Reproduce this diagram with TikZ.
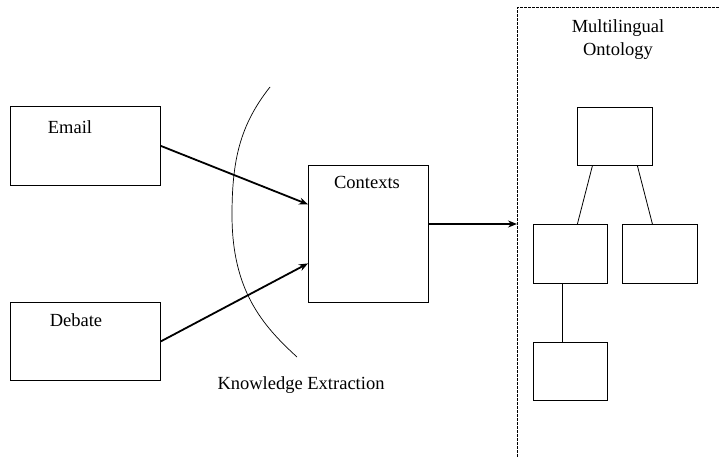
\documentclass[tikz,border=0pt]{standalone}
\usepackage{fontspec}
\setmainfont{Liberation Serif}
\usetikzlibrary{arrows.meta,calc}
\begin{document}
\begin{tikzpicture}[x=1pt,y=-1pt,
  box/.style={draw, line width=0.8pt, inner sep=0pt, anchor=north west},
  lbl/.style={font=\fontsize{18.5}{22}\selectfont, inner sep=0pt},
  conn/.style={line width=1.8pt,-{Stealth[length=9pt,width=7pt]}},
  tree/.style={line width=0.8pt}]
\useasboundingbox (0,0) rectangle (719,457);
% left boxes
\node[box, minimum width=150pt, minimum height=79pt] (email) at (10,106) {};
\node[box, minimum width=150pt, minimum height=78pt] (debate) at (10,302) {};
\node[box, minimum width=120pt, minimum height=137pt] (contexts) at (308,165) {};
\node[lbl] (emailt) at (70,127) {Email};
\node[lbl] (debatet) at (76,320) {Debate};
\node[lbl] (contextst) at (367,182) {Contexts};
% curve
\draw[line width=0.7pt] (270,87) .. controls (240,125) and (232,160) .. (232,215)
   .. controls (232,290) and (262,325) .. (297,357);
\node[lbl] (ke) at (301,385) {Knowledge Extraction};
% arrows
\draw[conn] (email.east) -- ($(contexts.west)+(0,-29.5)$);
\draw[conn] (debate.east) -- ($(contexts.west)+(0,29.5)$);
\coordinate (ontoin) at (517,224);
\draw[conn] (contexts.east |- ontoin) -- (ontoin);
% dashed frame
\draw[line width=1pt, dash pattern=on 3pt off 1pt] (517,457) -- (517,8) -- (719,8);
\node[lbl, align=center] (onto) at (618,39.5) {Multilingual\\[1pt]Ontology};
% tree boxes
\node[box, minimum width=75pt, minimum height=58pt] (top) at (577,107) {};
\node[box, minimum width=74pt, minimum height=59pt] (left) at (533,224) {};
\node[box, minimum width=75pt, minimum height=59pt] (right) at (622,224) {};
\node[box, minimum width=74pt, minimum height=58pt] (bottom) at (533,342) {};
\draw[tree] ($(top.south)+(-22.5,0)$) -- ($(left.north)+(7,0)$);
\draw[tree] ($(top.south)+(22.5,0)$) -- ($(right.north)+(-7.5,0)$);
\draw[tree] ($(left.south)+(-8,0)$) -- ($(bottom.north)+(-8,0)$);
\end{tikzpicture}
\end{document}
